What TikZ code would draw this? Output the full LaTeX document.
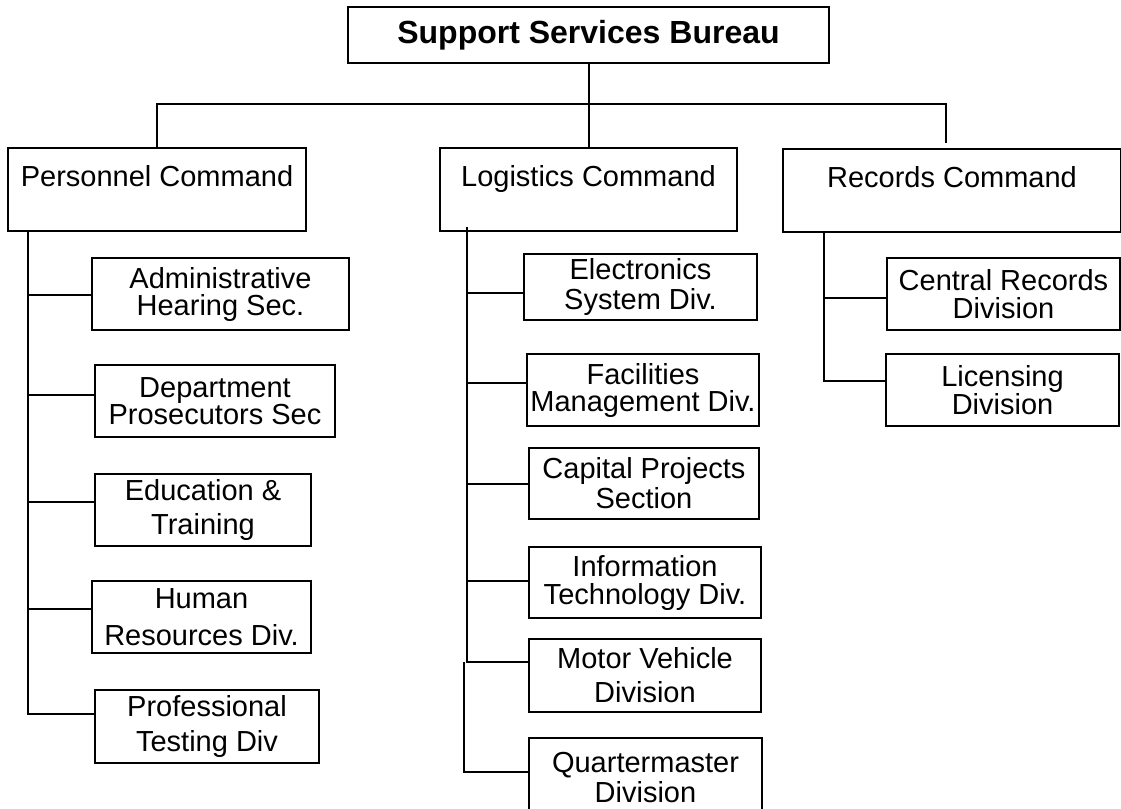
\documentclass[tikz,border=0pt]{standalone}
\usepackage{fontspec}
\setmainfont{Liberation Sans}

\tikzset{
	box/.style={draw, inner sep=0pt, anchor=north west, align=center},
	divbox/.style={box, font=\fontsize{29}{#1}\selectfont},
	divbox/.default=30,
	cmdbox/.style={box, font=\fontsize{29}{34}\selectfont, text height=38pt, text depth=45pt},
}

\begin{document}
\begin{tikzpicture}[x=1pt, y=-1pt, line width=2pt]
			\path[use as bounding box, fill=white] (0,0) rectangle (1121,808);
			\node[box, font=\fontsize{32}{36}\selectfont\bfseries, minimum width=481pt, minimum height=56pt] (ssb) at (347,6) {Support Services Bureau};
			
			\node[cmdbox, minimum width=298pt] (pers) at (7,147) {Personnel Command};
			\node[cmdbox, minimum width=297pt] (logi) at (439,147) {Logistics Command};
			\node[cmdbox, minimum width=338pt] (recs) at (782,148) {Records Command};
			
			\node[divbox=27, minimum width=257pt, minimum height=72pt] (admin) at (91,257) {Administrative\\Hearing Sec.};
			\node[divbox=26, minimum width=240pt, minimum height=72pt] (dept) at (94,364) {Department\\Prosecutors Sec};
			\node[divbox=34, minimum width=216pt, minimum height=72pt] (edu) at (94,473) {Education \&\\Training};
			\node[divbox=37, minimum width=219pt, minimum height=72pt] (hum) at (91,580) {Human\\Resources Div.};
			\node[divbox=35, minimum width=224pt, minimum height=73pt] (prof) at (94,689) {Professional\\Testing Div};
			
			\node[divbox=30, minimum width=233pt, minimum height=66pt] (elec) at (523,253) {Electronics\\System Div.};
			\node[divbox=27, minimum width=232pt, minimum height=72pt] (faci) at (526,353) {Facilities\\Management Div.};
			\node[divbox=30, minimum width=230pt, minimum height=71pt] (capi) at (528,447) {Capital Projects\\Section};
			\node[divbox=28, minimum width=232pt, minimum height=71pt] (info) at (528,546) {Information\\Technology Div.};
			\node[divbox=34, minimum width=232pt, minimum height=73pt] (moto) at (528,638) {Motor Vehicle\\Division};
			\node[divbox=30, minimum width=233pt, minimum height=80pt] (quar) at (528,737) {Quartermaster\\Division};
			
			\node[divbox=28, minimum width=233pt, minimum height=72pt] (cent) at (886,257) {Central Records\\Division};
			\node[divbox=26, minimum width=233pt, minimum height=72pt] (lice) at (885,353) {Licensing\\Division};
			
			\coordinate (bar) at (587,104);
			\coordinate (rdrop) at (946,143);
			\coordinate (ptop) at (28,230);
			\coordinate (ltop) at (467,227);
			\coordinate (lmid) at (464,662);
			\coordinate (rtop) at (824,233);
			
			\draw (ssb.south) -- (logi.north);
			\draw (pers.north) |- (bar) -| (rdrop);
			\foreach \n/\s in {admin/-1,dept/6,edu/8,hum/8,prof/13}
				\draw ([yshift=\s]\n.west) -| (ptop);
			\foreach \n/\s in {elec/-6,faci/7,capi/0,info/2,moto/14}
				\draw ([yshift=\s]\n.west) -| (ltop);
			\draw ([yshift=6]quar.west) -| (lmid);
			\foreach \n/\s in {cent/-4,lice/9}
				\draw ([yshift=\s]\n.west) -| (rtop);
\end{tikzpicture}
\end{document}
